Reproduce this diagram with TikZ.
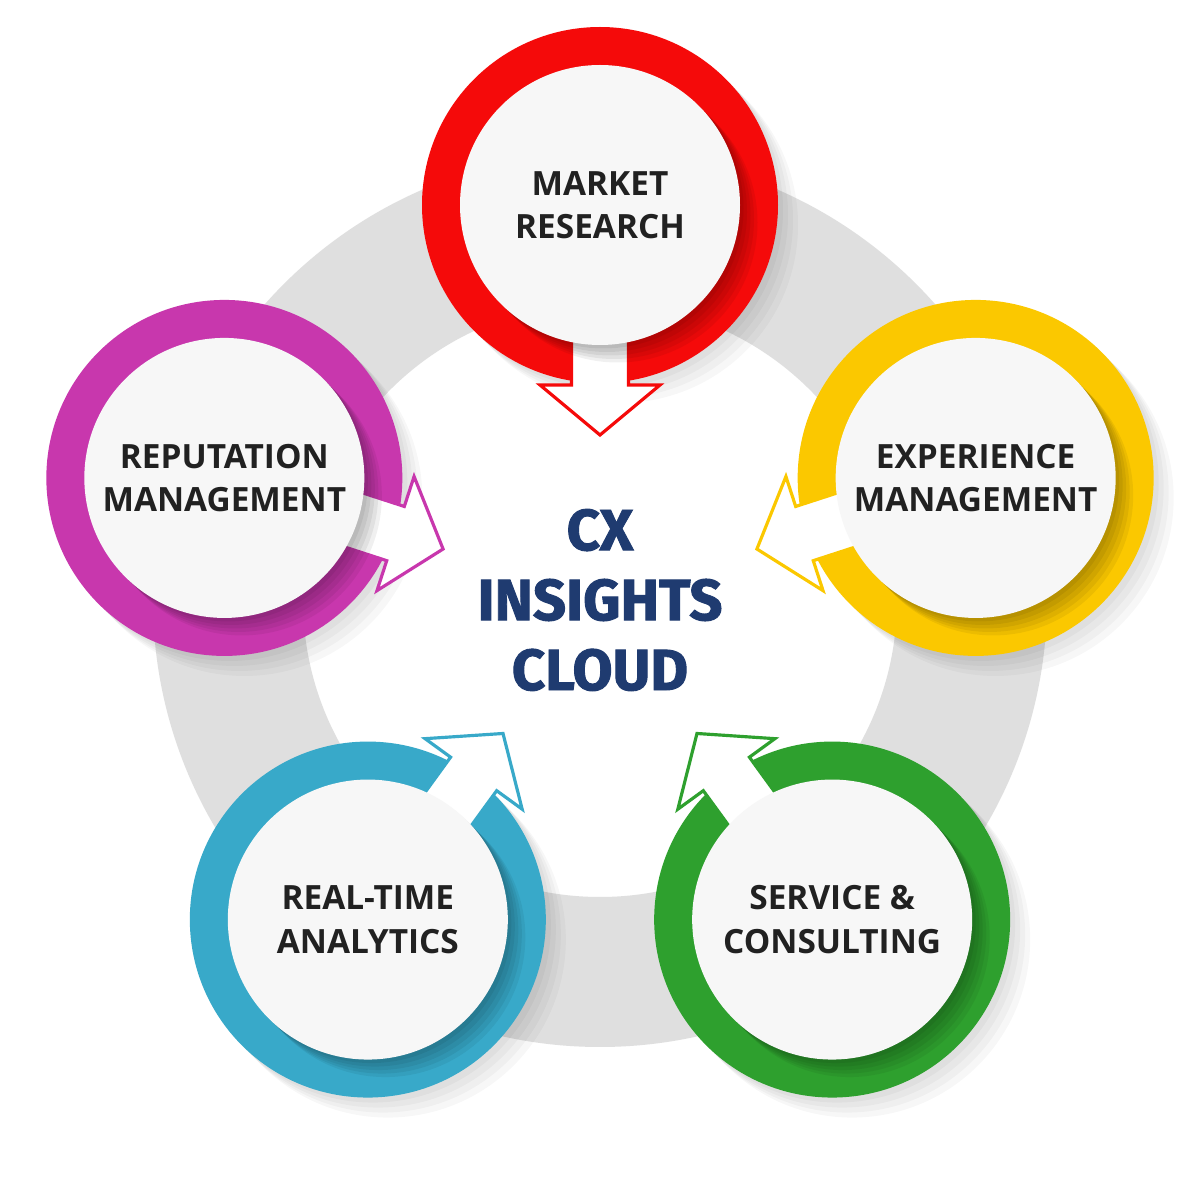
\documentclass[tikz,border=0pt]{standalone}
\usepackage{fontspec}
\setmainfont{Open Sans}
\newfontfamily\cxfont[FakeBold=1.6]{Fira Sans}

\definecolor{cxred}{HTML}{F50A0A}
\definecolor{cxyellow}{HTML}{FBC800}
\definecolor{cxgreen}{HTML}{2EA02E}
\definecolor{cxblue}{HTML}{38A9C9}
\definecolor{cxpurple}{HTML}{C837AD}
\definecolor{cxnavy}{HTML}{1F3B70}
\definecolor{cxgray}{HTML}{DFDFDF}

\tikzset{
  topic/.style={circle, fill=white!97!black, minimum size=2.8cm, inner sep=0pt,
    align=center, text=black!87, font=\fontsize{9.5}{12.4}\selectfont\bfseries},
  hub/.style={align=center, text=cxnavy, font=\cxfont\fontsize{16.5}{19.9}\selectfont\bfseries},
  tag/.style={line width=0.9pt, fill=white, line join=miter},
}

\begin{document}
\begin{tikzpicture}
\useasboundingbox[fill=white] (0,0) rectangle (12,12);

% grey wheel behind
\fill[cxgray, even odd rule] (6,6) circle (4.47) (6,6) circle (2.97);

\node[hub] (cx) at (6,6) {CX\\INSIGHTS\\CLOUD};

\begin{scope}[shift={(6,6)}]
\foreach \ang/\col/\nm/\txt in {90/cxred/mr/{MARKET\\RESEARCH},
    18/cxyellow/em/{EXPERIENCE\\MANAGEMENT},
    -54/cxgreen/sc/{SERVICE \&\\CONSULTING},
    -126/cxblue/rta/{REAL-TIME\\ANALYTICS},
    162/cxpurple/rm/{REPUTATION\\MANAGEMENT}}
{
  \begin{scope}[shift={(\ang:3.95)}]
    \foreach \s in {1,...,4}
      \fill[black, opacity=0.03] (0.05*\s,-0.05*\s) circle (1.78);
    \fill[\col] (0,0) circle (1.78);
    % arrow out of the ring, towards the hub
    \begin{scope}[rotate=\ang+180]
      \draw[tag, draw=\col] (1.2,0.285) -- (1.80,0.285) -- (1.80,0.6) -- (2.30,0)
        -- (1.80,-0.6) -- (1.80,-0.285) -- (1.2,-0.285) -- cycle;
    \end{scope}
    \begin{scope}
      \clip (0,0) circle (1.78);
      \foreach \s in {1,...,5}
        \fill[black, opacity=0.06] (0.035*\s,-0.035*\s) circle (1.40);
    \end{scope}
    \node[topic] (\nm) at (0,0) {\txt};
  \end{scope}
}
\end{scope}
\end{tikzpicture}
\end{document}
